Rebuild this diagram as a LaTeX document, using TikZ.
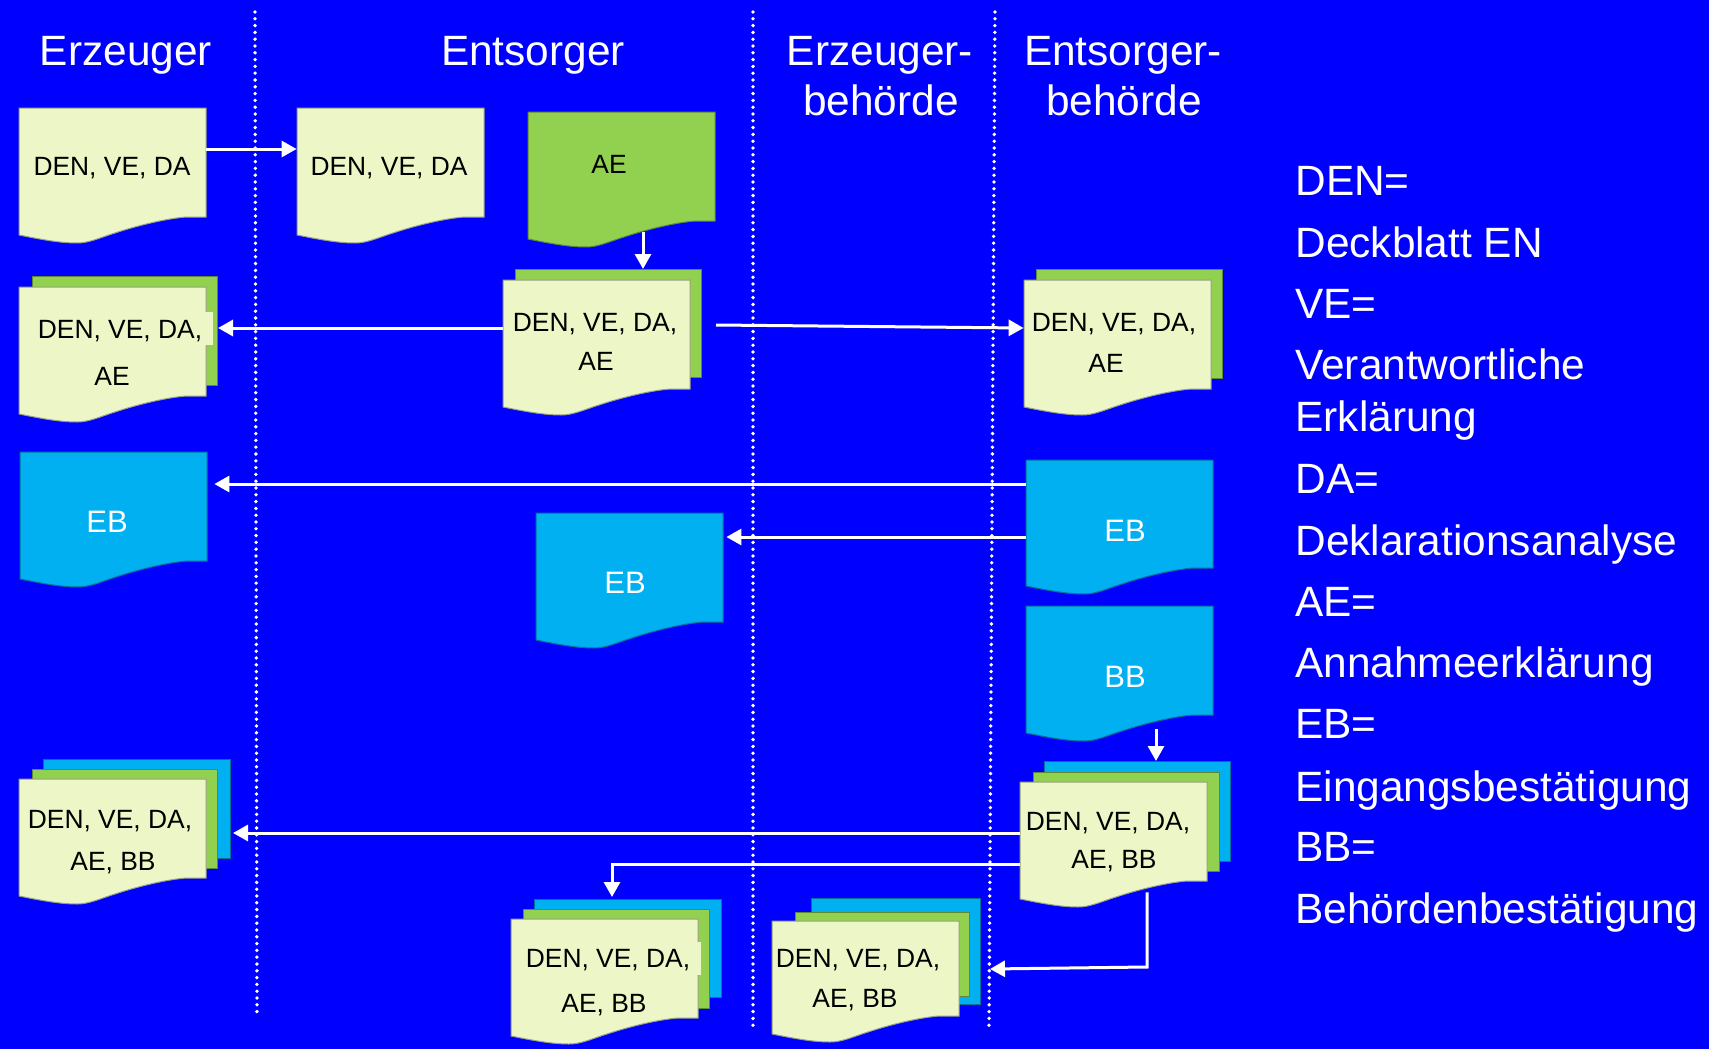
\documentclass[tikz,border=0pt]{standalone}
\usepackage{fontspec}
\setmainfont{Liberation Sans}
\usetikzlibrary{arrows.meta,calc}
\definecolor{bgblue}{RGB}{0,0,255}
\definecolor{docyel}{RGB}{236,246,198}
\definecolor{docgreen}{RGB}{146,208,80}
\definecolor{doccyan}{RGB}{0,176,240}
\tikzset{
  arr/.style={draw=white, line width=1.5pt, -{Triangle[length=7.5pt,width=8pt]}},
  lane/.style={draw=white, line width=1.9pt, dash pattern=on 0pt off 3.4pt, line cap=round},
  hdr/.style={text=white, font=\fontsize{21.2}{25}\selectfont, inner sep=0pt, anchor=base},
  leg/.style={text=white, font=\fontsize{21.2}{25}\selectfont, inner sep=0pt, anchor=base west},
  dtext/.style={text=black, font=\fontsize{13.2}{16}\selectfont, inner sep=0pt, anchor=base},
  wtext/.style={text=white, font=\fontsize{15.5}{18}\selectfont, inner sep=0pt, anchor=base},
  docbox/.style={rectangle, inner sep=0pt, minimum width=93.5pt},
  sheet/.style={rectangle, inner sep=0pt, anchor=north west, line width=0.5pt},
}
\newcommand\wavedoc[5]{% name, x, y, right height, colour
  \begin{scope}[shift={(#2,#3)}]
    \filldraw[fill=#5, draw=#5!65!black, line width=0.5pt] (0,0) -- (187,0) -- (187,#4) -- (168,#4)
      .. controls (150,#4+1) and (120,#4+8) .. (96,#4+16)
      .. controls (80,#4+21) and (70,#4+26) .. (58,#4+26)
      .. controls (40,#4+26) and (20,#4+22) .. (0,#4+18) -- cycle;
  \end{scope}
  \node[docbox, minimum height=#4*0.5pt] (#1) at (#2+93.5,#3+#4/2) {};
}
\newcommand\sheetat[6]{% name, x1, y1, x2, y2, colour
  \node[sheet, fill=#6, draw=#6!65!black, minimum width={(#4-#2)*0.5pt}, minimum height={(#5-#3)*0.5pt}] (#1) at (#2,#3) {};
}
\begin{document}
\begin{tikzpicture}[x=0.5pt,y=-0.5pt]
\useasboundingbox (0,0) rectangle (1709,1049);
\fill[bgblue] (0,0) rectangle (1709,1049);
% swim lanes
\draw[lane] (255,12) -- (257,1016);
\draw[lane] (753,12) -- (753,1028);
\draw[lane] (995,12) -- (989,1028);
% headers
\node[hdr] (h1) at (126,65) {Erzeuger};
\node[hdr] (h2) at (533,65) {Entsorger};
\node[hdr] (h3a) at (880,65) {Erzeuger-};
\node[hdr] (h3b) at (881,115) {behörde};
\node[hdr] (h4a) at (1123,65) {Entsorger-};
\node[hdr] (h4b) at (1124,115) {behörde};
% legend
\node[leg] (l1) at (1295,195) {DEN=};
\node[leg] (l2) at (1295,257) {Deckblatt EN};
\node[leg] (l3) at (1295,318) {VE=};
\node[leg] (l4) at (1295,379) {Verantwortliche};
\node[leg] (l5) at (1295,431) {Erklärung};
\node[leg] (l6) at (1295,493) {DA=};
\node[leg] (l7) at (1295,555) {Deklarationsanalyse};
\node[leg] (l8) at (1295,616) {AE=};
\node[leg] (l9) at (1295,677) {Annahmeerklärung};
\node[leg] (l10) at (1295,738) {EB=};
\node[leg] (l11) at (1295,801) {Eingangsbestätigung};
\node[leg] (l12) at (1295,861) {BB=};
\node[leg] (l13) at (1295,923) {Behördenbestätigung};
% row 1
\wavedoc{d1}{19}{108}{109}{docyel}
\node[dtext] (t1) at (112,175) {DEN, VE, DA};
\wavedoc{d2}{297}{108}{109}{docyel}
\node[dtext] (t2) at (389,175) {DEN, VE, DA};
\wavedoc{ae}{528}{112}{109}{docgreen}
\node[dtext] (t3) at (609,173) {AE};
% row 2
\sheetat{d3g}{32}{276}{217}{385}{docgreen}
\wavedoc{d3}{19}{287}{109}{docyel}
\fill[docyel] (200,312) rectangle (213,345);
\node[dtext] (t4a) at (120,338) {DEN, VE, DA,};
\node[dtext] (t4b) at (112,385) {AE};
\sheetat{d4g}{515}{269}{701}{377}{docgreen}
\wavedoc{d4}{503}{280}{109}{docyel}
\node[dtext] (t5a) at (595,331) {DEN, VE, DA,};
\node[dtext] (t5b) at (596,370) {AE};
\sheetat{d5g}{1036}{269}{1222}{378}{docgreen}
\wavedoc{d5}{1024}{280}{109}{docyel}
\node[dtext] (t6a) at (1114,331) {DEN, VE, DA,};
\node[dtext] (t6b) at (1106,372) {AE};
% row 3
\wavedoc{eb1}{20}{452}{109}{doccyan}
\node[wtext] (t7) at (107,532) {EB};
\wavedoc{eb2}{1026}{460}{108}{doccyan}
\node[wtext] (t8) at (1125,541) {EB};
\wavedoc{eb3}{536}{513}{109}{doccyan}
\node[wtext] (t9) at (625,593) {EB};
\wavedoc{bb}{1026}{606}{109}{doccyan}
\node[wtext] (t10) at (1125,687) {BB};
% row 4
\sheetat{d6c}{1044}{761}{1230}{861}{doccyan}
\sheetat{d6g}{1033}{772}{1219}{871}{docgreen}
\wavedoc{d6}{1020}{782}{99}{docyel}
\node[dtext] (t11a) at (1108,830) {DEN, VE, DA,};
\node[dtext] (t11b) at (1114,868) {AE, BB};
\sheetat{d7c}{43}{759}{230}{858}{doccyan}
\sheetat{d7g}{32}{769}{217}{868}{docgreen}
\wavedoc{d7}{19}{779}{99}{docyel}
\node[dtext] (t12a) at (110,828) {DEN, VE, DA,};
\node[dtext] (t12b) at (113,870) {AE, BB};
\sheetat{d8c}{534}{899}{721}{997}{doccyan}
\sheetat{d8g}{523}{909}{709}{1008}{docgreen}
\wavedoc{d8}{511}{919}{99}{docyel}
\fill[docyel] (690,942) rectangle (701,975);
\node[dtext] (t13a) at (608,967) {DEN, VE, DA,};
\node[dtext] (t13b) at (604,1012) {AE, BB};
\sheetat{d9c}{811}{898}{980}{1004}{doccyan}
\sheetat{d9g}{795}{912}{969}{996}{docgreen}
\wavedoc{d9}{772}{921}{95}{docyel}
\node[dtext] (t14a) at (858,967) {DEN, VE, DA,};
\node[dtext] (t14b) at (855,1007) {AE, BB};
% connectors
\draw[arr] (d1.east |- 0,149) -- (d2.west |- 0,149);
\draw[arr] ($(ae.south -| 643,0)+(0,11)$) -- (d4g.north -| 643,0);
\draw[arr] (d4.west |- 0,328) -- (d3g.east |- 0,328);
\draw[arr] ($(d4g.east |- 0,325)+(14,0)$) -- (d5.west |- 0,328);
\draw[arr] (eb2.west |- 0,484) -- ($(eb1.east |- 0,484)+(7,0)$);
\draw[arr] (eb2.west |- 0,537) -- ($(eb3.east |- 0,537)+(3,0)$);
\draw[arr] ($(bb.south -| 1156,0)+(0,14)$) -- (d6c.north -| 1156,0);
\draw[arr] (d6.west |- 0,833) -- ($(d7c.east |- 0,833)+(2,0)$);
\draw[arr] (d6.west |- 0,864) -| ($(d8c.north -| 612,0)+(0,-2)$);
\coordinate (k1) at (1147,967);
\draw[arr] ($(d6.south -| 1147,0)+(0,11)$) -- (k1) -- ($(d9c.east |- 0,969)+(9,0)$);
\end{tikzpicture}
\end{document}
